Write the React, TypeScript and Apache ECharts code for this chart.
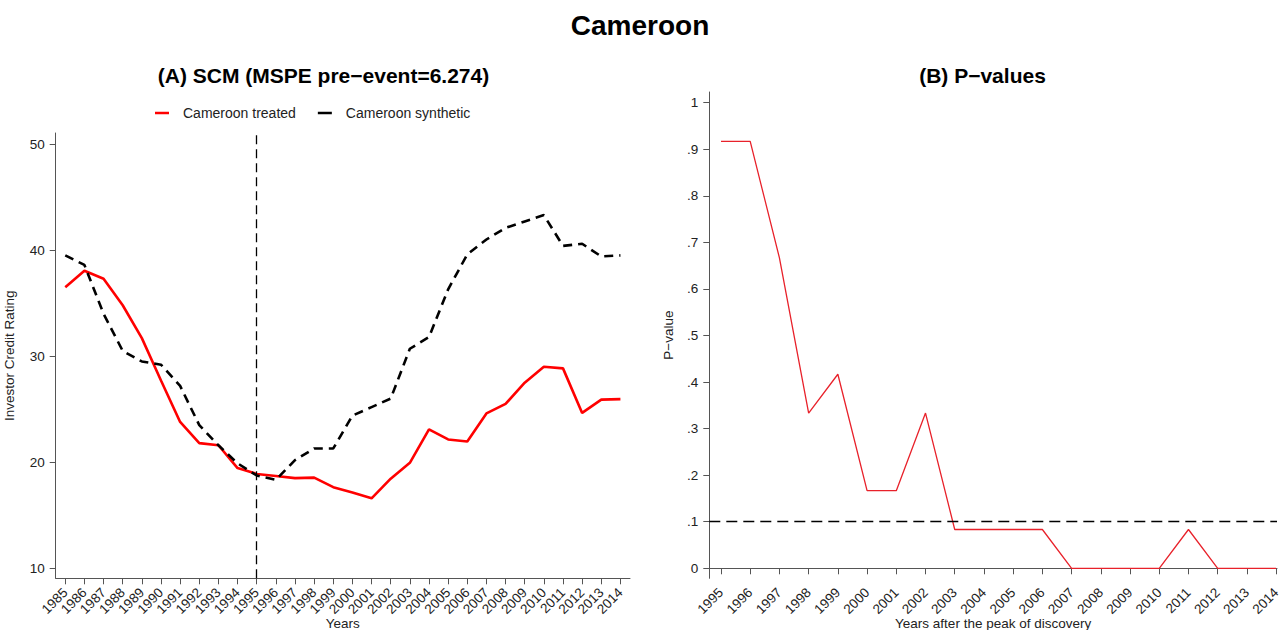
import React, { useEffect, useRef } from "react";
import * as echarts from "echarts";

const years = ["1985", "1986", "1987", "1988", "1989", "1990", "1991", "1992", "1993", "1994", "1995", "1996", "1997", "1998", "1999", "2000", "2001", "2002", "2003", "2004", "2005", "2006", "2007", "2008", "2009", "2010", "2011", "2012", "2013", "2014"];
const treated = [36.5, 38.05, 37.3, 34.8, 31.7, 27.7, 23.8, 21.8, 21.6, 19.45, 18.9, 18.7, 18.5, 18.55, 17.65, 17.15, 16.6, 18.45, 19.95, 23.1, 22.15, 21.95, 24.6, 25.5, 27.5, 29.0, 28.85, 24.65, 25.9, 25.95];
const synthetic = [39.5, 38.6, 34.0, 30.5, 29.5, 29.2, 27.2, 23.5, 21.6, 19.9, 18.75, 18.35, 20.2, 21.3, 21.3, 24.4, 25.2, 26.0, 30.7, 31.8, 36.3, 39.6, 41.0, 42.1, 42.7, 43.3, 40.4, 40.6, 39.4, 39.5];
const leftYTicks = [10, 20, 30, 40, 50];
const eventYear = "1995";

const pYears = [1995, 1996, 1997, 1998, 1999, 2000, 2001, 2002, 2003, 2004, 2005, 2006, 2007, 2008, 2009, 2010, 2011, 2012, 2013, 2014];
const pValues = [0.9167, 0.9167, 0.6667, 0.3333, 0.4167, 0.1667, 0.1667, 0.3333, 0.0833, 0.0833, 0.0833, 0.0833, 0, 0, 0, 0, 0.0833, 0, 0, 0];
const rightYTicks = [0, 0.1, 0.2, 0.3, 0.4, 0.5, 0.6, 0.7, 0.8, 0.9, 1];
const pThreshold = 0.1;

const FONT = "Liberation Sans";
const AXIS_COLOR = "#555";
const TEXT_COLOR = "#222";
const TICK_FS = 13.5;
const NAME_FS = 13.5;

function fmtP(v: number): string {
  const r = Math.round(v * 10) / 10;
  if (r === 0) return "0";
  if (r === 1) return "1";
  return "." + Math.round(r * 10);
}

export default function App() {
  const ref = useRef<HTMLDivElement>(null);
  useEffect(() => {
    if (!ref.current) return;
    const chart = echarts.init(ref.current, null, { renderer: "svg" });
    const axisLine = { show: true, lineStyle: { color: AXIS_COLOR, width: 1 } };
    const nameStyle = { fontFamily: FONT, fontSize: NAME_FS, color: TEXT_COLOR };
    chart.setOption({
      animation: false,
      backgroundColor: "#fff",
      textStyle: { fontFamily: FONT },
      title: [
        { text: "Cameroon", left: "center", top: 6, textStyle: { fontFamily: FONT, fontSize: 28, fontWeight: "bold", color: "#000" } },
        { text: "(A) SCM (MSPE pre\u2212event=6.274)", left: 318.5, top: 60, textAlign: "center", textStyle: { fontFamily: FONT, fontSize: 21, fontWeight: "bold", color: "#000" } },
        { text: "(B) P\u2212values", left: 977.5, top: 60, textAlign: "center", textStyle: { fontFamily: FONT, fontSize: 21, fontWeight: "bold", color: "#000" } },
      ],
      legend: {
        left: 150,
        top: 101,
        itemWidth: 14,
        itemHeight: 2.5,
        itemGap: 22,
        textStyle: { fontFamily: FONT, fontSize: 14, color: TEXT_COLOR, padding: [0, 0, 0, 9] },
        data: [
          { name: "Cameroon treated", icon: "rect" },
          { name: "Cameroon synthetic", icon: "rect" },
        ],
      },
      grid: [
        { left: 55.7, right: 650, top: 133, bottom: 51.7, outerBoundsMode: "none", containLabel: false },
        { left: 709.3, right: 3, top: 92, bottom: 51.7, outerBoundsMode: "none", containLabel: false },
      ],
      xAxis: [
        {
          type: "category", gridIndex: 0, data: years, boundaryGap: true,
          name: "Years", nameLocation: "middle", nameGap: 38, nameMoveOverlap: false, nameTextStyle: nameStyle,
          axisLine, splitLine: { show: false },
          axisTick: { show: true, length: 6, alignWithLabel: true, interval: 0, lineStyle: { color: AXIS_COLOR } },
          axisLabel: { interval: 0, rotate: 45, fontSize: TICK_FS, color: TEXT_COLOR, fontFamily: FONT, margin: 12 },
        },
        {
          type: "value", gridIndex: 1, min: 1994.6, max: 2014.03,
          name: "Years after the peak of discovery", nameLocation: "middle", nameGap: 38, nameMoveOverlap: false, nameTextStyle: nameStyle,
          axisLine, splitLine: { show: false },
          axisTick: { show: true, length: 6, customValues: pYears, lineStyle: { color: AXIS_COLOR } },
          axisLabel: {
            customValues: pYears, rotate: 45, fontSize: TICK_FS, color: TEXT_COLOR, fontFamily: FONT, margin: 12,
            showMinLabel: true, showMaxLabel: true, formatter: (v: number) => String(Math.round(v)),
          },
        },
      ],
      yAxis: [
        {
          type: "value", gridIndex: 0, min: 9.06, max: 51.04,
          name: "Investor Credit Rating", nameLocation: "middle", nameGap: 39, nameMoveOverlap: false, nameTextStyle: nameStyle,
          axisLine, splitLine: { show: false },
          axisTick: { show: true, length: 6, customValues: leftYTicks, lineStyle: { color: AXIS_COLOR } },
          axisLabel: { customValues: leftYTicks, fontSize: TICK_FS, color: TEXT_COLOR, fontFamily: FONT, margin: 11, showMinLabel: true, showMaxLabel: true },
        },
        {
          type: "value", gridIndex: 1, min: -0.0215, max: 1.0228,
          name: "P\u2212value", nameLocation: "middle", nameGap: 34, nameMoveOverlap: false, nameTextStyle: nameStyle,
          axisLine, splitLine: { show: false },
          axisTick: { show: true, length: 6, customValues: rightYTicks, lineStyle: { color: AXIS_COLOR } },
          axisLabel: { customValues: rightYTicks, fontSize: TICK_FS, color: TEXT_COLOR, fontFamily: FONT, margin: 11, showMinLabel: true, showMaxLabel: true, formatter: fmtP },
        },
      ],
      series: [
        {
          name: "Cameroon treated", type: "line", xAxisIndex: 0, yAxisIndex: 0,
          data: treated,
          symbol: "none", color: "#ff0000",
          lineStyle: { color: "#ff0000", width: 2.6 },
          markLine: {
            silent: true, symbol: "none", label: { show: false },
            lineStyle: { color: "#000", width: 1.3, type: [9, 5] },
            data: [{ xAxis: eventYear }],
          },
        },
        {
          name: "Cameroon synthetic", type: "line", xAxisIndex: 0, yAxisIndex: 0,
          data: synthetic,
          symbol: "none", color: "#000",
          lineStyle: { color: "#000", width: 2.6, type: [9, 6] },
        },
        {
          name: "P-values", type: "line", xAxisIndex: 1, yAxisIndex: 1,
          data: pYears.map((y, i) => [y, pValues[i]]),
          symbol: "none", color: "#e8212a",
          lineStyle: { color: "#e8212a", width: 1.3 },
          markLine: {
            silent: true, symbol: "none", label: { show: false },
            lineStyle: { color: "#000", width: 1.3, type: [11, 6] },
            data: [{ yAxis: pThreshold }],
          },
        },
      ],
    });
    return () => chart.dispose();
  }, []);
  return <div ref={ref} style={{ position: "fixed", left: 0, top: 0, width: 1280, height: 630 }} />;
}
